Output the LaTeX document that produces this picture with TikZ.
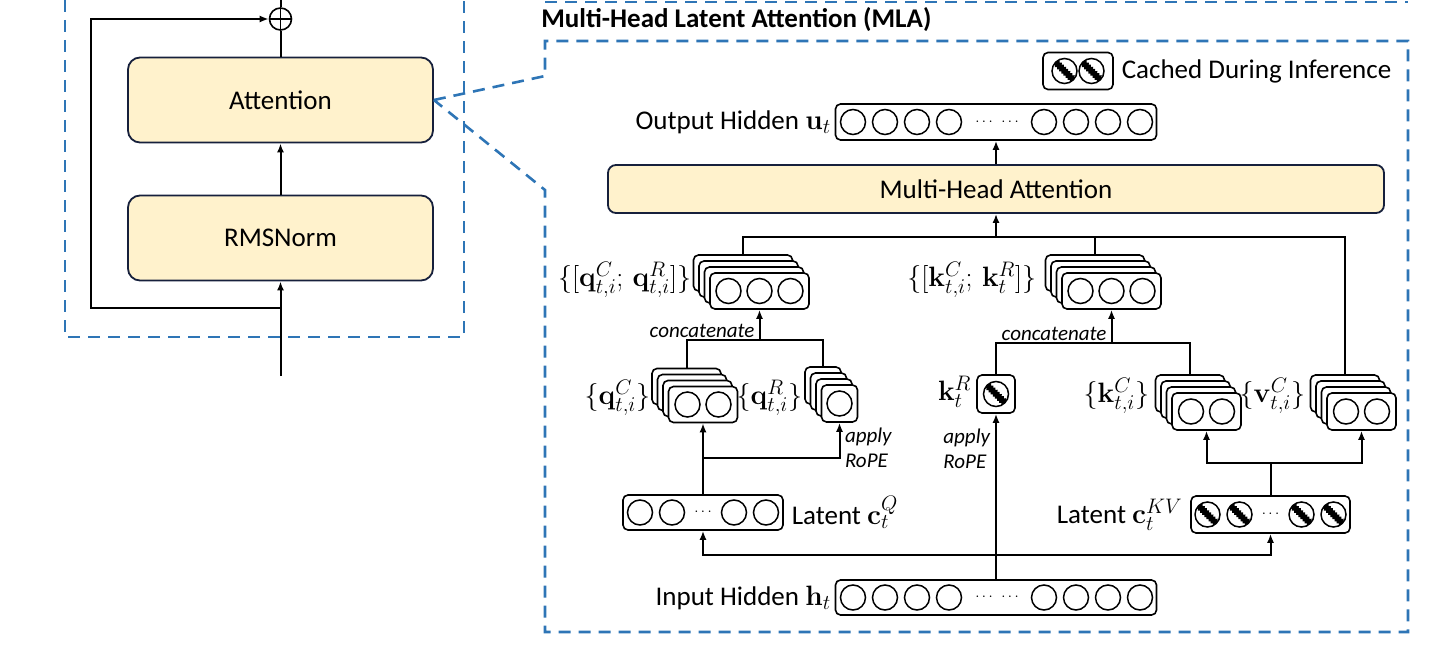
\RequirePackage{fix-cm}
\documentclass[tikz,border=0pt]{standalone}
\usepackage[no-math]{fontspec}
\setmainfont{Carlito}
\DeclareMathSizes{27}{28}{21}{16}
\usetikzlibrary{positioning, arrows.meta, decorations.pathmorphing}

\definecolor{mlablue}{RGB}{46,117,182}
\definecolor{boxfill}{RGB}{255,242,204}
\definecolor{boxline}{RGB}{22,32,60}

\tikzset{
  blk/.style={draw=boxline, fill=boxfill, rounded corners=12pt, line width=1.8pt, minimum width=305, minimum height=85},
  vec/.style={draw, rounded corners=5pt, line width=1.6pt, inner sep=0pt},
  card/.style={draw, fill=white, rounded corners=5pt, line width=1.6pt, inner sep=0pt},
  unit/.style={draw, circle, minimum size=25, inner sep=0pt, line width=1.5pt},
  hunit/.style={unit, path picture={\draw[line width=4.5pt, decorate, decoration={zigzag, segment length=3pt, amplitude=0.8pt}] (path picture bounding box.north west) -- (path picture bounding box.south east);}},
  plusnode/.style={draw, circle, minimum size=22, inner sep=0pt, line width=1.6pt, path picture={\draw[line width=1.6pt] (path picture bounding box.north) -- (path picture bounding box.south) (path picture bounding box.west) -- (path picture bounding box.east);}},
  arr/.style={-{Latex[length=9pt,width=7pt]}},
  zoomline/.style={draw=mlablue, line width=2.6pt, dash pattern=on 12pt off 8pt},
  note/.style={font=\fontsize{21}{25}\selectfont\itshape, inner sep=1pt, align=left},
  lbl/.style={inner sep=1pt},
  dots/.style={font=\fontsize{15}{15}\selectfont, inner sep=0pt}
}

% stack of four cards: name, x, y (front card), width, height, circle offsets
\newcommand{\cardstack}[6]{%
  \foreach \i in {3,2,1,0}
    \node[card, minimum width=#4, minimum height=#5] (#1\i) at ({#2-5.5*\i},{#3-6*\i}) {};
  \foreach \d [count=\n] in {#6}
    \node[unit] (#1u\n) at ({#2+\d},#3) {};
}

\begin{document}
\begin{tikzpicture}[x=1pt, y=-1pt, font=\fontsize{27}{32}\selectfont, line width=2pt]
\useasboundingbox (0,0) rectangle (1456,666);

% block on the left
\node[blk] (attn) at (280.5,100) {Attention};
\node[blk] (rms) at (280.5,238) {RMSNorm};
\node[plusnode] (plus) at (280.5,19) {};
\coordinate (xin) at (280.5,376);
\coordinate (xout) at (280.5,0);
\coordinate (res) at (280.5,308);
\coordinate (resl) at (91,308);
\draw[arr] (xin) -- (rms);
\draw[arr] (rms) -- (attn);
\draw (attn) -- (plus);
\draw (plus) -- (xout);
\draw[arr] (res) -- (resl) |- (plus);

% dashed frames
\draw[zoomline] (65,0) -- (65,337) -- (464,337) -- (464,0);
\draw[zoomline] (545,2) -- (1408,2);
\draw[zoomline] (attn.east) -- (545,76) -- (545,41) -- (1408,41) -- (1408,632) -- (545,632) -- (545,190) -- cycle;
\node[anchor=west, font=\fontsize{27}{32}\selectfont\bfseries] (title) at (537,20) {Multi-Head Latent Attention (MLA)};

% legend
\node[vec, minimum width=70, minimum height=37] (legend) at (1078,71) {};
\node[hunit] (leg1) at (1064.5,71) {};
\node[hunit] (leg2) at (1091.5,71) {};
\node[lbl, right=6pt of legend] (legtxt) {Cached During Inference};

% output and attention
\node[vec, minimum width=321, minimum height=36] (out) at (996,122) {};
\foreach \x in {853,885,917,949,1044,1076,1108,1140}
  \node[unit] (o\x) at (\x,122) {};
\node[dots] (od1) at (984,122) {$\cdots$};
\node[dots] (od2) at (1010,122) {$\cdots$};
\node[lbl, left=2pt of out] (outlbl) {Output Hidden $\mathbf{u}_t$};
\node[blk, minimum width=776, minimum height=48, rounded corners=8pt] (mha) at (996,189) {Multi-Head Attention};

% heads
\cardstack{qcat}{759.5}{291}{99}{36}{-31,0,31}
\cardstack{kcat}{1111.5}{291}{99}{36}{-31,0,31}
\cardstack{qc}{703}{404.5}{69}{36}{-15.5,15.5}
\cardstack{qr}{839.5}{403.5}{36}{37}{0}
\cardstack{kc}{1206.5}{411.5}{69}{37}{-15.5,15.5}
\cardstack{vc}{1361.5}{411.5}{69}{37}{-15.5,15.5}
\node[vec, minimum width=38, minimum height=38] (kr) at (996,394) {};
\node[hunit] (kru) at (kr) {};

\node[lbl, anchor=east] (qcatlbl) at (693,280) {$\{[\mathbf{q}_{t,i}^C;\,\mathbf{q}_{t,i}^R]\}$};
\node[lbl, anchor=east] (kcatlbl) at (1038,280) {$\{[\mathbf{k}_{t,i}^C;\,\mathbf{k}_t^R]\}$};
\node[lbl, anchor=east] (qclbl) at (652,398) {$\{\mathbf{q}_{t,i}^C\}$};
\node[lbl, anchor=east] (qrlbl) at (804,398) {$\{\mathbf{q}_{t,i}^R\}$};
\node[lbl, anchor=east] (krlbl) at (973,392) {$\mathbf{k}_t^R$};
\node[lbl, anchor=east] (kclbl) at (1151,396) {$\{\mathbf{k}_{t,i}^C\}$};
\node[lbl, anchor=east] (vclbl) at (1307,396) {$\{\mathbf{v}_{t,i}^C\}$};

% latents and input
\node[vec, minimum width=160, minimum height=35] (cq) at (703,512.5) {};
\node[vec, minimum width=159, minimum height=37] (ckv) at (1270.5,514.5) {};
\foreach \d in {-63,-31,31,63} {
  \node[unit] (cq\d) at ({703+\d},512.5) {};
  \node[hunit] (ckv\d) at ({1270.5+\d},514.5) {};
}
\node[dots] (cqd) at (703,512.5) {$\cdots$};
\node[dots] (ckvd) at (1270.5,514.5) {$\cdots$};
\node[lbl, right=6pt of cq] (cqlbl) {Latent $\mathbf{c}_t^Q$};
\node[lbl, left=6pt of ckv] (ckvlbl) {Latent $\mathbf{c}_t^{KV}$};

\node[vec, minimum width=321, minimum height=35] (inp) at (996,597.5) {};
\foreach \x in {853,885,917,949,1044,1076,1108,1140}
  \node[unit] (h\x) at (\x,597.5) {};
\node[dots] (hd1) at (984,597.5) {$\cdots$};
\node[dots] (hd2) at (1010,597.5) {$\cdots$};
\node[lbl, left=2pt of inp] (inplbl) {Input Hidden $\mathbf{h}_t$};

% connectors
\coordinate (top) at (996,237);
\coordinate (qjoin) at (759.5,340);
\coordinate (kjoin) at (1111.5,343);
\coordinate (qsplit) at (703,458);
\coordinate (kvsplit) at (1270.5,463);
\coordinate (hjoin) at (996,555);

\draw[arr] (mha) -- (out);
\draw (qcat3.north) |- (top) -| (vc3.north);
\draw (kcat3.north) -- (kcat3.north |- top);
\draw[arr] (top) -- (mha);

\draw (qc3.north) |- (qjoin) -| (qr3.north);
\draw[arr] (qjoin) -- (qcat0);
\node[note, anchor=south east] (qnote) at ([xshift=-3pt]qjoin) {concatenate};
\draw (kr) |- (kjoin) -| (kc3.north);
\draw[arr] (kjoin) -- (kcat0);
\node[note, anchor=south east] (knote) at ([xshift=-3pt]kjoin) {concatenate};

\draw[arr] (cq) -- (qc0);
\draw[arr] (qsplit) -| (qr0);
\node[note, anchor=west] (qrope) at (843,448) {apply\\RoPE};
\draw (ckv) -- (kvsplit);
\draw[arr] (kvsplit) -| (kc0);
\draw[arr] (kvsplit) -| (vc0);

\draw[arr] (inp) -- (kr);
\node[note, anchor=east] (krope) at (992,449) {apply\\RoPE};
\draw[arr] (hjoin) -| (cq);
\draw[arr] (hjoin) -| (ckv);
\end{tikzpicture}
\end{document}
